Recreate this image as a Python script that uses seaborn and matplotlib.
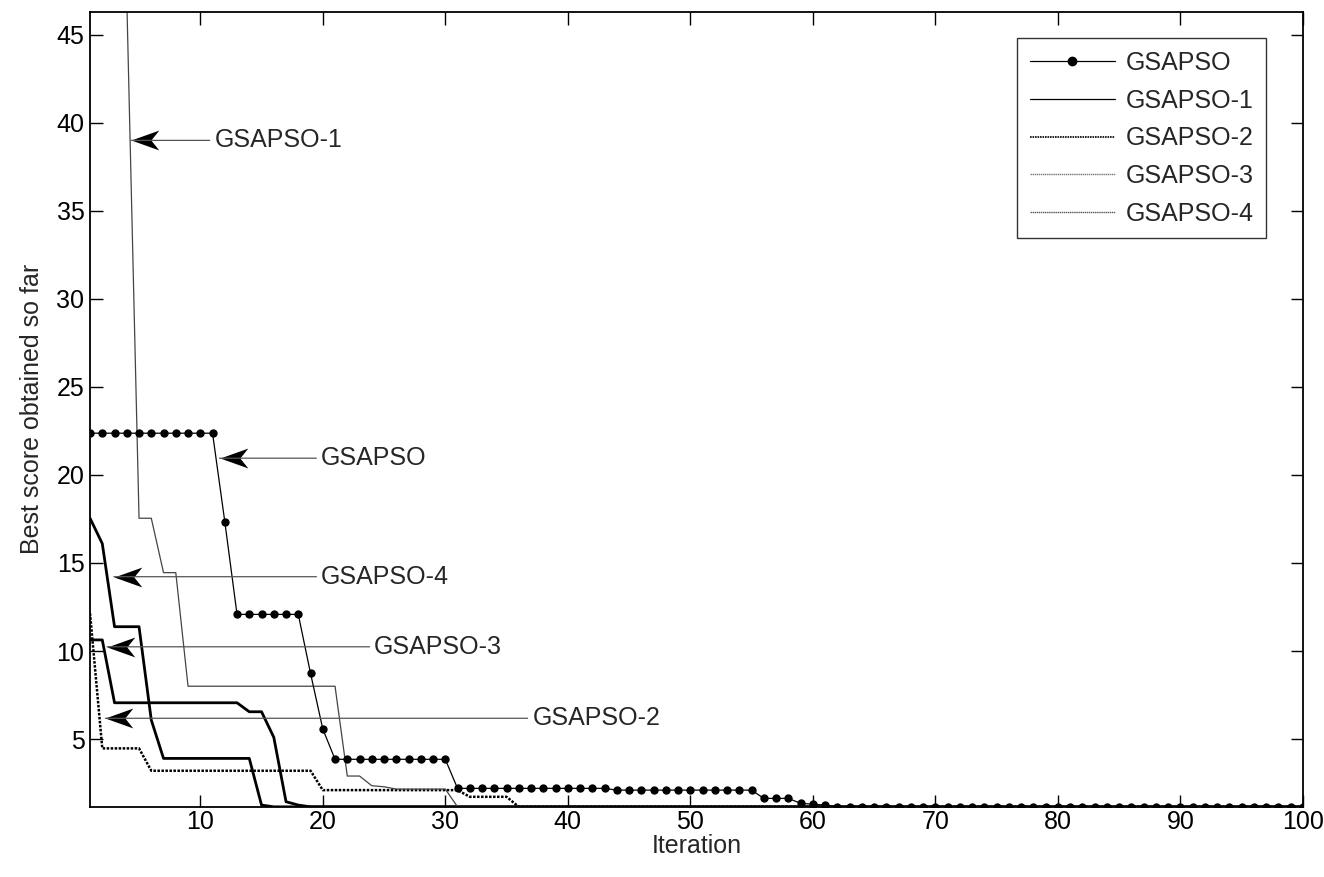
import numpy as np
import pandas as pd
import matplotlib
matplotlib.use("Agg")
import matplotlib.pyplot as plt
from matplotlib.lines import Line2D
from matplotlib.path import Path
import seaborn as sns

# iterations 1..100
iterations = list(range(1, 101))

# best score per iteration (rows of 10)
gsapso = [
    22.37, 22.37, 22.37, 22.37, 22.37, 22.37, 22.37, 22.37, 22.37, 22.37,
    22.37, 17.35, 12.08, 12.08, 12.08, 12.08, 12.08, 12.08, 8.73, 5.57,
    3.85, 3.85, 3.85, 3.85, 3.85, 3.85, 3.85, 3.85, 3.85, 3.85,
    2.2, 2.2, 2.2, 2.2, 2.2, 2.2, 2.2, 2.2, 2.2, 2.2,
    2.2, 2.2, 2.2, 2.1, 2.1, 2.1, 2.1, 2.1, 2.1, 2.1,
    2.1, 2.1, 2.1, 2.1, 2.1, 1.63, 1.63, 1.63, 1.35, 1.3,
    1.25, 1.15, 1.15, 1.15, 1.15, 1.15, 1.15, 1.15, 1.15, 1.15,
    1.15, 1.15, 1.15, 1.15, 1.15, 1.15, 1.15, 1.15, 1.15, 1.15,
    1.15, 1.15, 1.15, 1.15, 1.15, 1.15, 1.15, 1.15, 1.15, 1.15,
    1.15, 1.15, 1.15, 1.15, 1.15, 1.15, 1.15, 1.15, 1.15, 1.15,
]
gsapso_1 = [
    170.0, 130.0, 90.0, 47.0, 17.54, 17.54, 14.45, 14.45, 8.0, 8.0,
    8.0, 8.0, 8.0, 8.0, 8.0, 8.0, 8.0, 8.0, 8.0, 8.0,
    8.0, 2.9, 2.9, 2.35, 2.29, 2.16, 2.16, 2.16, 2.16, 2.16,
    1.15, 1.15, 1.15, 1.15, 1.15, 1.15, 1.15, 1.15, 1.15, 1.15,
    1.15, 1.15, 1.15, 1.15, 1.15, 1.15, 1.15, 1.15, 1.15, 1.15,
    1.15, 1.15, 1.15, 1.15, 1.15, 1.15, 1.15, 1.15, 1.15, 1.15,
    1.15, 1.15, 1.15, 1.15, 1.15, 1.15, 1.15, 1.15, 1.15, 1.15,
    1.15, 1.15, 1.15, 1.15, 1.15, 1.15, 1.15, 1.15, 1.15, 1.15,
    1.15, 1.15, 1.15, 1.15, 1.15, 1.15, 1.15, 1.15, 1.15, 1.15,
    1.15, 1.15, 1.15, 1.15, 1.15, 1.15, 1.15, 1.15, 1.15, 1.15,
]
gsapso_2 = [
    12.14, 4.47, 4.47, 4.47, 4.47, 3.2, 3.2, 3.2, 3.2, 3.2,
    3.2, 3.2, 3.2, 3.2, 3.2, 3.2, 3.2, 3.2, 3.2, 2.1,
    2.1, 2.1, 2.1, 2.1, 2.1, 2.1, 2.1, 2.1, 2.1, 2.1,
    2.1, 1.72, 1.72, 1.72, 1.72, 1.15, 1.15, 1.15, 1.15, 1.15,
    1.15, 1.15, 1.15, 1.15, 1.15, 1.15, 1.15, 1.15, 1.15, 1.15,
    1.15, 1.15, 1.15, 1.15, 1.15, 1.15, 1.15, 1.15, 1.15, 1.15,
    1.15, 1.15, 1.15, 1.15, 1.15, 1.15, 1.15, 1.15, 1.15, 1.15,
    1.15, 1.15, 1.15, 1.15, 1.15, 1.15, 1.15, 1.15, 1.15, 1.15,
    1.15, 1.15, 1.15, 1.15, 1.15, 1.15, 1.15, 1.15, 1.15, 1.15,
    1.15, 1.15, 1.15, 1.15, 1.15, 1.15, 1.15, 1.15, 1.15, 1.15,
]
gsapso_3 = [
    10.63, 10.63, 7.06, 7.06, 7.06, 7.06, 7.06, 7.06, 7.06, 7.06,
    7.06, 7.06, 7.06, 6.55, 6.55, 5.1, 1.44, 1.25, 1.15, 1.15,
    1.15, 1.15, 1.15, 1.15, 1.15, 1.15, 1.15, 1.15, 1.15, 1.15,
    1.15, 1.15, 1.15, 1.15, 1.15, 1.15, 1.15, 1.15, 1.15, 1.15,
    1.15, 1.15, 1.15, 1.15, 1.15, 1.15, 1.15, 1.15, 1.15, 1.15,
    1.15, 1.15, 1.15, 1.15, 1.15, 1.15, 1.15, 1.15, 1.15, 1.15,
    1.15, 1.15, 1.15, 1.15, 1.15, 1.15, 1.15, 1.15, 1.15, 1.15,
    1.15, 1.15, 1.15, 1.15, 1.15, 1.15, 1.15, 1.15, 1.15, 1.15,
    1.15, 1.15, 1.15, 1.15, 1.15, 1.15, 1.15, 1.15, 1.15, 1.15,
    1.15, 1.15, 1.15, 1.15, 1.15, 1.15, 1.15, 1.15, 1.15, 1.15,
]
gsapso_4 = [
    17.54, 16.1, 11.38, 11.38, 11.38, 6.08, 3.9, 3.9, 3.9, 3.9,
    3.9, 3.9, 3.9, 3.9, 1.25, 1.15, 1.15, 1.15, 1.15, 1.15,
    1.15, 1.15, 1.15, 1.15, 1.15, 1.15, 1.15, 1.15, 1.15, 1.15,
    1.15, 1.15, 1.15, 1.15, 1.15, 1.15, 1.15, 1.15, 1.15, 1.15,
    1.15, 1.15, 1.15, 1.15, 1.15, 1.15, 1.15, 1.15, 1.15, 1.15,
    1.15, 1.15, 1.15, 1.15, 1.15, 1.15, 1.15, 1.15, 1.15, 1.15,
    1.15, 1.15, 1.15, 1.15, 1.15, 1.15, 1.15, 1.15, 1.15, 1.15,
    1.15, 1.15, 1.15, 1.15, 1.15, 1.15, 1.15, 1.15, 1.15, 1.15,
    1.15, 1.15, 1.15, 1.15, 1.15, 1.15, 1.15, 1.15, 1.15, 1.15,
    1.15, 1.15, 1.15, 1.15, 1.15, 1.15, 1.15, 1.15, 1.15, 1.15,
]

series_names = ["GSAPSO", "GSAPSO-1", "GSAPSO-2", "GSAPSO-3", "GSAPSO-4"]
x_ticks = [10, 20, 30, 40, 50, 60, 70, 80, 90, 100]
y_ticks = [5, 10, 15, 20, 25, 30, 35, 40, 45]
y_top = 46.3


sns.set_style("ticks")
plt.rcParams["font.family"] = ["Liberation Sans", "DejaVu Sans"]
font_size = 18

fig = plt.figure(figsize=(13.24, 8.77), dpi=100)
ax = fig.add_axes([0.068, 0.080, 0.916, 0.9065])

# draw the curves
sns.lineplot(x=iterations, y=gsapso_4, ax=ax, color="black", linewidth=2.0,
             estimator=None)
sns.lineplot(x=iterations, y=gsapso_3, ax=ax, color="black", linewidth=2.0,
             estimator=None)
sns.lineplot(x=iterations, y=gsapso_2, ax=ax, color="black", linewidth=1.8,
             linestyle=(0, (1, 0.6)), estimator=None)
sns.lineplot(x=iterations, y=gsapso_1, ax=ax, color="#444444", linewidth=0.9,
             estimator=None)
sns.lineplot(x=iterations, y=gsapso, ax=ax, color="black", linewidth=0.9,
             marker="o", markersize=6, markeredgewidth=0, estimator=None)

ax.set_xlim(1, 100)
ax.set_ylim(min(gsapso + gsapso_1 + gsapso_2 + gsapso_3 + gsapso_4), y_top)
ax.set_xticks(x_ticks)
ax.set_yticks(y_ticks)
ax.set_xlabel("Iteration", fontsize=font_size, labelpad=0)
ax.set_ylabel("Best score obtained so far", fontsize=font_size, labelpad=9)
ax.tick_params(direction="in", length=9, width=1, top=True, right=True,
               labelsize=font_size, colors="black")
ax.tick_params(axis="x", pad=2)
ax.tick_params(axis="y", pad=4)
for spine in ax.spines.values():
    spine.set_linewidth(1.3)
    spine.set_color("black")

# legend with MATLAB-like samples
handles = [
    Line2D([], [], color="black", linewidth=0.9, marker="o", markersize=6),
    Line2D([], [], color="black", linewidth=0.9),
    Line2D([], [], color="black", linewidth=1.2, linestyle=(0, (1, 0.5))),
    Line2D([], [], color="#777777", linewidth=1.0, linestyle=(0, (1, 0.5))),
    Line2D([], [], color="#555555", linewidth=1.0, linestyle=(0, (1, 0.5))),
]
leg = ax.legend(handles, series_names, loc="upper right",
                bbox_to_anchor=(0.970, 0.9665), fontsize=font_size,
                frameon=True, fancybox=False, handlelength=3.4,
                labelspacing=0.55, borderpad=0.5, handletextpad=0.45,
                borderaxespad=0)
leg.get_frame().set_edgecolor("black")
leg.get_frame().set_linewidth(1.0)

# text arrows pointing at each curve, head drawn as a notched marker
head = Path([(0, 0), (2.8, 1.0), (2.0, 0), (2.8, -1.0), (0, 0)],
            [Path.MOVETO, Path.LINETO, Path.LINETO, Path.LINETO, Path.CLOSEPOLY])
arrow_labels = ["GSAPSO-1", "GSAPSO", "GSAPSO-4", "GSAPSO-3", "GSAPSO-2"]
arrow_tips = [(4.35, 39.0), (11.57, 20.95), (2.94, 14.22), (2.39, 10.24), (2.25, 6.18)]
text_starts = [11.15, 19.86, 19.86, 24.2, 37.1]
for label, (tx, ty), sx in zip(arrow_labels, arrow_tips, text_starts):
    ax.annotate(label, xy=(tx, ty), xytext=(sx, ty), fontsize=font_size,
                ha="left", va="center",
                arrowprops=dict(arrowstyle="-", color="#555555", lw=0.9,
                                shrinkA=1, shrinkB=0, relpos=(0, 0.5)))
    ax.plot([tx], [ty], marker=head, markersize=40, color="black",
            markeredgewidth=0, linestyle="none")

fig.savefig("out.png", dpi=100, facecolor="white")
plt.close()
